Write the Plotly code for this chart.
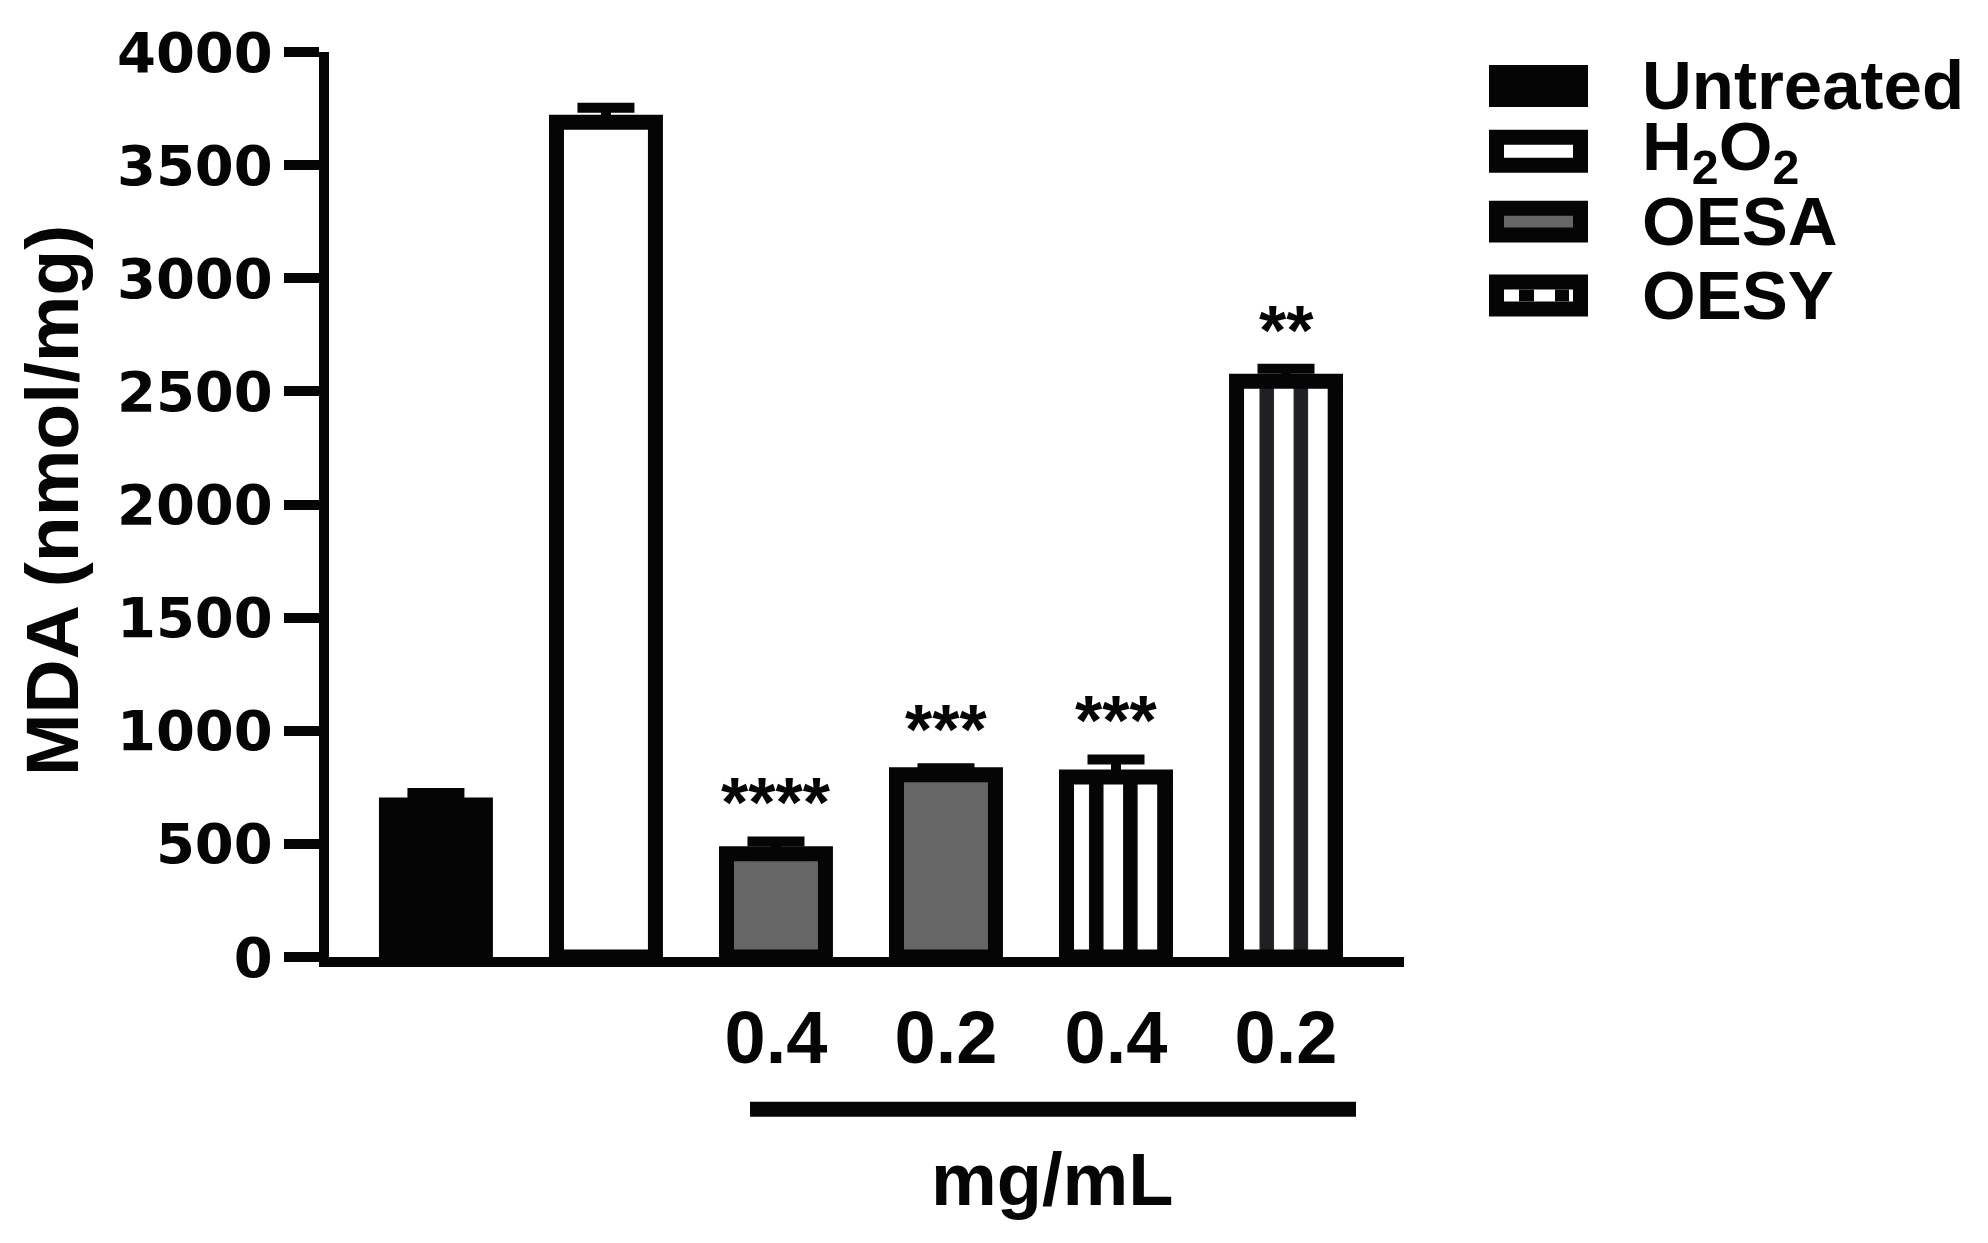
import plotly.graph_objects as go

# ---------------- data ----------------
groups = ["Untreated", "H2O2", "OESA", "OESY"]
group_labels = ["Untreated", "H<sub>2</sub>O<sub>2</sub>", "OESA", "OESY"]
bar_group = [0, 1, 2, 2, 3, 3]
conc_labels = ["", "", "0.4", "0.2", "0.4", "0.2"]
mda_mean = [672, 3690, 456, 805, 796, 2545]
mda_err = [53, 64, 55, 29, 77, 55]
significance = ["", "", "****", "***", "***", "**"]
y_ticks = [0, 500, 1000, 1500, 2000, 2500, 3000, 3500, 4000]

# ---------------- styles ----------------
group_fill = ["#050505", "#ffffff", "#666666", "#ffffff"]
stripe_color = ["#050505", "#050505", "#050505", "#050505", "#050505", "#202024"]

OFF = 8  # default page body margin
W, H = 1988 - OFF, 1243 - OFF
# plot area in page pixels
L, R, T, B = 329, 1404, 50, 957


def px(x):
    return (x - L) / (R - L)


def py(y):
    return (B - y) / (B - T)


fig = go.Figure()
positions = list(range(len(mda_mean)))
for gi, g in enumerate(groups):
    idx = [i for i, b in enumerate(bar_group) if b == gi]
    marker = dict(color=group_fill[gi], line=dict(color="#050505", width=15))
    if g == "OESY":
        marker["pattern"] = dict(shape="|", size=34.1, solidity=0.425,
                                 fgcolor=[stripe_color[i] for i in idx],
                                 bgcolor="#ffffff", fillmode="replace")
    fig.add_trace(go.Bar(
        x=[positions[i] for i in idx],
        y=[mda_mean[i] for i in idx],
        name=g,
        width=0.582,
        marker=marker,
        error_y=dict(type="data", array=[mda_err[i] for i in idx],
                     arrayminus=[0 for _ in idx], symmetric=False,
                     color="#050505", thickness=10, width=28.5),
        showlegend=False,
    ))

# significance stars
for i, s in enumerate(significance):
    if s:
        fig.add_annotation(x=positions[i], y=mda_mean[i] + mda_err[i], text=s,
                           showarrow=False, yanchor="bottom", yshift=-3,
                           font=dict(family="Liberation Sans", size=70, color="#050505", weight="bold"))

# manual legend
shapes = []
rows = [(63, 105), (128, 171), (199, 241), (273, 315)]
for gi, (y0, y1) in enumerate(rows):
    shapes.append(dict(type="rect", xref="paper", yref="paper",
                       x0=px(1489), x1=px(1588), y0=py(y1), y1=py(y0),
                       fillcolor="#050505", line=dict(width=0), layer="above"))
    if gi > 0:
        shapes.append(dict(type="rect", xref="paper", yref="paper",
                           x0=px(1504), x1=px(1573), y0=py(y1 - 15), y1=py(y0 + 15),
                           fillcolor=group_fill[gi],
                           line=dict(width=0), layer="above"))
    if groups[gi] == "OESY":
        for sx0, sx1 in [(1519, 1534), (1555, 1569)]:
            shapes.append(dict(type="rect", xref="paper", yref="paper",
                               x0=px(sx0), x1=px(sx1), y0=py(y1 - 15), y1=py(y0 + 15),
                               fillcolor="#050505", line=dict(width=0), layer="above"))
    fig.add_annotation(xref="paper", yref="paper", x=px(1641), y=py((y0 + y1) / 2),
                       text=group_labels[gi], showarrow=False, xanchor="left", yanchor="middle",
                       borderpad=0,
                       font=dict(family="Liberation Sans", size=69, color="#050505", weight="bold"))

# concentration bracket line and unit label
shapes.append(dict(type="line", xref="paper", yref="paper",
                   x0=px(750), x1=px(1356), y0=py(1109.5), y1=py(1109.5),
                   line=dict(color="#050505", width=15)))
fig.add_annotation(xref="paper", yref="paper", x=px(1052), y=py(1180),
                   text="mg/mL", showarrow=False, xanchor="center", yanchor="middle",
                   font=dict(family="Liberation Sans", size=74, color="#050505", weight="bold"))

# y axis title
fig.add_annotation(xref="paper", yref="paper", x=px(52), y=py(500),
                   text="MDA (nmol/mg)", showarrow=False, textangle=-90,
                   xanchor="center", yanchor="middle",
                   font=dict(family="Liberation Sans", size=75, color="#050505", weight="bold"))

tick_pos = [p for p, t in zip(positions, conc_labels) if t]
tick_txt = [t for t in conc_labels if t]

fig.update_layout(
    width=W, height=H,
    margin=dict(l=L - OFF, r=W - (R - OFF), t=T - OFF, b=H - (B - OFF), pad=0),
    paper_bgcolor="white", plot_bgcolor="white",
    barmode="overlay",
    shapes=shapes,
    showlegend=False,
    xaxis=dict(range=[-0.629, 5.694], tickvals=tick_pos, ticktext=tick_txt,
               showline=True, linecolor="#050505", linewidth=10,
               ticks="outside", ticklen=7, tickcolor="rgba(0,0,0,0)",
               showgrid=False, zeroline=False,
               tickfont=dict(family="Liberation Sans", size=74, color="#050505", weight="bold")),
    yaxis=dict(range=[0, 4000], tickvals=y_ticks,
               showline=True, linecolor="#050505", linewidth=10,
               ticks="outside", ticklen=35, tickwidth=10, tickcolor="#050505",
               showgrid=False, zeroline=False,
               tickfont=dict(family="DejaVu Sans", size=56, color="#050505", weight="bold")),
)

fig.write_html("out.html")
